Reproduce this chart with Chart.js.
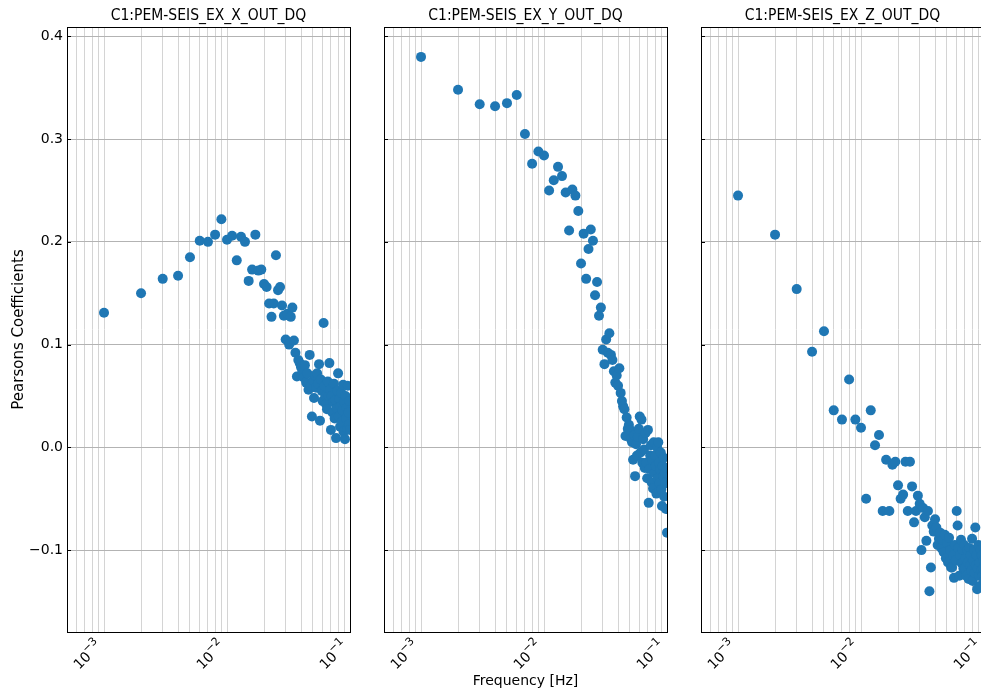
<!DOCTYPE html>
<html>
<head>
<meta charset="utf-8">
<script src="https://cdn.jsdelivr.net/npm/chart.js@4.4.0/dist/chart.umd.min.js"></script>
<style>
  html, body { margin: 0; padding: 0; background: #fff; overflow: hidden; }
  #wrap { position: relative; width: 1000px; height: 693px; }
  canvas { position: absolute; top: 0; }
</style>
</head>
<body>
<div id="wrap">
  <canvas id="c1"></canvas>
  <canvas id="c2"></canvas>
  <canvas id="c3"></canvas>
</div>
<script>
// frequency bins [Hz]
const freqHz = [
  0.001, 0.002, 0.003, 0.004, 0.005, 0.006, 0.007, 0.008, 0.009, 0.010,
  0.011, 0.012, 0.013, 0.014, 0.015, 0.016, 0.017, 0.018, 0.019, 0.020,
  0.021, 0.022, 0.023, 0.024, 0.025, 0.026, 0.027, 0.028, 0.029, 0.030,
  0.031, 0.032, 0.033, 0.034, 0.035, 0.036, 0.037, 0.038, 0.039, 0.040,
  0.041, 0.042, 0.043, 0.044, 0.045, 0.046, 0.047, 0.048, 0.049, 0.050,
  0.051, 0.052, 0.053, 0.054, 0.055, 0.056, 0.057, 0.058, 0.059, 0.060,
  0.061, 0.062, 0.063, 0.064, 0.065, 0.066, 0.067, 0.068, 0.069, 0.070,
  0.071, 0.072, 0.073, 0.074, 0.075, 0.076, 0.077, 0.078, 0.079, 0.080,
  0.081, 0.082, 0.083, 0.084, 0.085, 0.086, 0.087, 0.088, 0.089, 0.090,
  0.091, 0.092, 0.093, 0.094, 0.095, 0.096, 0.097, 0.098, 0.099, 0.100
];

const pearsonX = [
  0.131, 0.150, 0.164, 0.167, 0.185, 0.201, 0.200, 0.207, 0.222, 0.202,
  0.206, 0.182, 0.205, 0.200, 0.162, 0.173, 0.207, 0.172, 0.173, 0.159,
  0.156, 0.140, 0.127, 0.140, 0.187, 0.153, 0.156, 0.138, 0.128, 0.105,
  0.130, 0.100, 0.127, 0.136, 0.104, 0.092, 0.069, 0.085, 0.082, 0.078,
  0.074, 0.068, 0.080, 0.063, 0.072, 0.056, 0.090, 0.060, 0.030, 0.065,
  0.048, 0.070, 0.058, 0.072, 0.062, 0.081, 0.026, 0.066, 0.055, 0.045,
  0.121, 0.060, 0.050, 0.042, 0.037, 0.064, 0.050, 0.082, 0.056, 0.017,
  0.050, 0.034, 0.044, 0.062, 0.028, 0.046, 0.009, 0.038, 0.055, 0.072,
  0.030, 0.047, 0.020, 0.040, 0.053, 0.025, 0.036, 0.061, 0.015, 0.044,
  0.008, 0.050, 0.028, 0.038, 0.018, 0.060, 0.034, 0.022, 0.045, 0.017
];

const pearsonY = [
  0.380, 0.348, 0.334, 0.332, 0.335, 0.343, 0.305, 0.276, 0.288, 0.284,
  0.250, 0.260, 0.273, 0.264, 0.248, 0.211, 0.251, 0.245, 0.230, 0.179,
  0.208, 0.164, 0.193, 0.212, 0.201, 0.148, 0.161, 0.128, 0.136, 0.095,
  0.081, 0.105, 0.092, 0.111, 0.090, 0.085, 0.074, 0.063, 0.070, 0.060,
  0.077, 0.053, 0.045, 0.040, 0.037, 0.011, 0.029, 0.018, 0.022, 0.017,
  0.008, 0.005, -0.012, 0.012, -0.028, 0.003, -0.008, 0.010, 0.018, 0.030,
  -0.005, 0.027, -0.015, 0.008, -0.002, -0.020, 0.014, -0.015, -0.030, 0.017,
  -0.054, -0.021, -0.008, 0.002, -0.034, -0.012, -0.040, 0.005, -0.025, -0.008,
  -0.018, -0.045, 0.000, -0.030, 0.005, -0.015, -0.035, -0.022, -0.005, -0.041,
  -0.057, -0.018, -0.028, -0.010, -0.048, -0.025, -0.035, -0.060, -0.020, -0.083
];

const pearsonZ = [
  0.245, 0.207, 0.154, 0.093, 0.113, 0.036, 0.027, 0.066, 0.027, 0.019,
  -0.050, 0.036, 0.002, 0.012, -0.062, -0.012, -0.062, -0.017, -0.014, -0.037,
  -0.050, -0.046, -0.014, -0.062, -0.014, -0.038, -0.073, -0.062, -0.047, -0.055,
  -0.100, -0.059, -0.068, -0.091, -0.062, -0.140, -0.117, -0.076, -0.082, -0.070,
  -0.078, -0.095, -0.089, -0.083, -0.098, -0.090, -0.102, -0.085, -0.108, -0.093,
  -0.112, -0.088, -0.100, -0.117, -0.117, -0.105, -0.127, -0.095, -0.110, -0.062,
  -0.076, -0.098, -0.125, -0.105, -0.090, -0.113, -0.100, -0.118, -0.095, -0.118,
  -0.108, -0.125, -0.100, -0.112, -0.128, -0.098, -0.115, -0.105, -0.120, -0.089,
  -0.130, -0.110, -0.100, -0.122, -0.078, -0.115, -0.105, -0.138, -0.118, -0.095,
  -0.125, -0.112, -0.135, -0.100, -0.120, -0.105, -0.125, -0.118, -0.110, -0.130
];

const yTicks = [-0.1, 0.0, 0.1, 0.2, 0.3, 0.4];
const xDecades = [0.001, 0.01, 0.1];
const channelNames = ['C1:PEM-SEIS_EX_X_OUT_DQ', 'C1:PEM-SEIS_EX_Y_OUT_DQ', 'C1:PEM-SEIS_EX_Z_OUT_DQ'];

const FONT = '"DejaVu Sans", sans-serif';

function logTicks(min, max) {
    const out = [];
    for (let e = -4; e <= -1; e++) {
        for (let m = 1; m <= 9; m++) {
            const v = m * Math.pow(10, e);
            if (v >= min * 0.999 && v <= max * 1.001) out.push({ value: v });
        }
    }
    return out;
}

// "10" with a raised exponent, rotated 45 deg, bbox right edge at the tick
function drawDecadeLabel(ctx, x, y, exp) {
    const base = '10', sup = '\u2212' + Math.abs(exp);
    ctx.save();
    ctx.font = '14px ' + FONT;
    const wb = ctx.measureText(base).width;
    ctx.font = '11px ' + FONT;
    const ws = ctx.measureText(sup).width;
    const w = wb + ws - 1, h = 17;
    const c = Math.SQRT1_2;
    ctx.translate(x - c * h, y);
    ctx.rotate(-Math.PI / 4);
    ctx.fillStyle = '#000';
    ctx.textBaseline = 'alphabetic';
    ctx.textAlign = 'left';
    ctx.font = '14px ' + FONT;
    ctx.fillText(base, -w, h - 2);
    ctx.font = '11px ' + FONT;
    ctx.fillText(sup, -w + wb - 1, h - 9);
    ctx.restore();
}

const framePlugin = {
    id: 'frame',
    afterDraw(chart, args, opts) {
        const { ctx, chartArea: a } = chart;
        const ys = chart.scales.y, xs = chart.scales.x;
        ctx.save();
        ctx.strokeStyle = '#000';
        ctx.lineWidth = 1;
        ctx.strokeRect(Math.round(a.left) + 0.5, Math.round(a.top) + 0.5,
            Math.round(a.right - a.left), Math.round(a.bottom - a.top));
        // inward ticks on left spine
        yTicks.forEach(t => {
            const py = Math.round(ys.getPixelForValue(t)) + 0.5;
            ctx.beginPath();
            ctx.moveTo(a.left, py);
            ctx.lineTo(a.left + 4, py);
            ctx.stroke();
        });
        xDecades.forEach(d => {
            drawDecadeLabel(ctx, xs.getPixelForValue(d), a.bottom + 4, Math.round(Math.log10(d)));
        });
        ctx.fillStyle = '#000';
        ctx.textAlign = 'center';
        ctx.textBaseline = 'bottom';
        ctx.save();
        ctx.translate((a.left + a.right) / 2, a.top - 3);
        ctx.scale(0.93, 1);
        ctx.font = '15px ' + FONT;
        ctx.fillText(opts.title, 0, 0);
        ctx.restore();
        if (opts.yTitle) {
            ctx.save();
            ctx.translate(19, (a.top + a.bottom) / 2);
            ctx.rotate(-Math.PI / 2);
            ctx.textBaseline = 'middle';
            ctx.font = '15px ' + FONT;
            ctx.fillText(opts.yTitle, 0, 0);
            ctx.restore();
        }
        if (opts.xTitle) {
            ctx.textBaseline = 'middle';
            ctx.font = '14px ' + FONT;
            ctx.fillText(opts.xTitle, (a.left + a.right) / 2, 681);
        }
        ctx.restore();
    }
};

const panels = [
    { id: 'c1', left: 0, width: 360, areaLeft: 67, areaRight: 350, values: pearsonX, showY: true },
    { id: 'c2', left: 330, width: 360, areaLeft: 384, areaRight: 667, values: pearsonY, showY: false },
    { id: 'c3', left: 650, width: 350, areaLeft: 701, areaRight: 984, values: pearsonZ, showY: false }
];

panels.forEach((p, i) => {
    const canvas = document.getElementById(p.id);
    canvas.width = p.width;
    canvas.height = 693;
    canvas.style.left = p.left + 'px';
    canvas.style.width = p.width + 'px';
    canvas.style.height = '693px';

    new Chart(canvas, {
        type: 'scatter',
        data: {
            datasets: [{
                data: freqHz.map((f, k) => ({ x: f, y: p.values[k] })),
                backgroundColor: '#1f77b4',
                borderWidth: 0,
                pointRadius: 5,
                pointHoverRadius: 5,
                clip: 0
            }]
        },
        options: {
            responsive: false,
            animation: false,
            events: [],
            layout: { padding: { top: 27, bottom: 0, left: 0, right: p.left + p.width - p.areaRight } },
            plugins: {
                legend: { display: false },
                tooltip: { enabled: false },
                frame: {
                    title: channelNames[i],
                    yTitle: i === 0 ? 'Pearsons Coefficients' : null,
                    xTitle: i === 1 ? 'Frequency [Hz]' : null
                }
            },
            scales: {
                x: {
                    type: 'logarithmic',
                    min: 0.0005,
                    max: 0.1,
                    afterBuildTicks: s => { s.ticks = logTicks(0.0005, 0.1); },
                    afterFit: s => { s.height = 61; s.paddingLeft = 0; s.paddingRight = 0; },
                    grid: { color: '#d4d4d4', lineWidth: 1, drawTicks: false },
                    border: { display: false },
                    ticks: { display: false, autoSkip: false }
                },
                y: {
                    min: -0.1797,
                    max: 0.4091,
                    afterBuildTicks: s => { s.ticks = yTicks.map(v => ({ value: v })); },
                    afterFit: s => { s.width = p.areaLeft - p.left; s.paddingTop = 0; s.paddingBottom = 0; },
                    grid: { color: '#b3b3b3', lineWidth: 1, drawTicks: false },
                    border: { display: false },
                    ticks: {
                        display: p.showY,
                        padding: 4,
                        color: '#000',
                        font: { family: FONT, size: 14 },
                        callback: v => v.toFixed(1).replace('-', '\u2212')
                    }
                }
            }
        },
        plugins: [framePlugin]
    });
});
</script>
</body>
</html>
